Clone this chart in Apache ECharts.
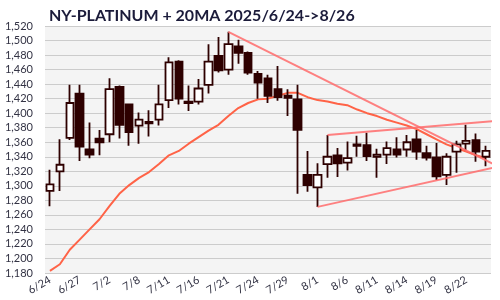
<!DOCTYPE html>
<html><head><meta charset="utf-8">
<script src="https://cdn.jsdelivr.net/npm/echarts@6/dist/echarts.min.js"></script>
<style>html,body{margin:0;padding:0;background:#fff}#c{width:500px;height:300px}</style>
</head><body><div id="c"></div>
<script>
const dates = ['6/24','6/25','6/26','6/27','6/30','7/1','7/2','7/3','7/7','7/8','7/9','7/10','7/11','7/14','7/15','7/16','7/17','7/18','7/21','7/22','7/23','7/24','7/25','7/28','7/29','7/30','7/31','8/1','8/4','8/5','8/6','8/7','8/8','8/11','8/12','8/13','8/14','8/15','8/18','8/19','8/20','8/21','8/22','8/25','8/26'];
const openV  = [1293,1320,1366,1427,1350,1365,1371,1436,1412,1383,1388,1391,1418,1471,1416,1416,1439,1479,1460,1492,1483,1454,1448,1433,1424,1419,1315,1298,1330,1342,1332,1357,1356,1340,1343,1350,1350,1364,1345,1339,1315,1347,1358,1363,1340];
const closeV = [1302,1329,1414,1354,1343,1360,1433,1384,1374,1391,1386,1412,1470,1420,1414,1434,1471,1459,1495,1483,1456,1442,1424,1422,1421,1377,1301,1315,1340,1331,1338,1355,1341,1343,1352,1343,1360,1347,1339,1313,1340,1357,1362,1347,1348];
const lowV   = [1272,1293,1363,1334,1338,1342,1360,1365,1355,1358,1368,1383,1407,1412,1403,1412,1427,1456,1453,1468,1453,1420,1414,1417,1396,1289,1292,1271,1311,1312,1321,1340,1334,1311,1330,1339,1340,1336,1335,1308,1301,1318,1349,1333,1327];
const highV  = [1322,1364,1439,1439,1387,1377,1448,1438,1413,1401,1404,1439,1477,1473,1438,1447,1495,1505,1512,1501,1485,1458,1453,1465,1433,1439,1348,1331,1370,1352,1361,1369,1373,1351,1361,1367,1370,1377,1355,1359,1345,1362,1384,1372,1355];
const ma20   = [1183,1192,1212,1226,1240,1254,1272,1289,1301,1311,1319,1330,1342,1348,1358,1367,1376,1384,1396,1407,1414,1419,1420,1424,1428,1428,1422,1418,1416,1413,1411,1405,1400,1396,1391,1387,1383,1378,1371,1364,1357,1352,1347,1342,1338];
const trendTop   = [[18,1512],[45.45,1325]];
const trendUpper = [[28,1370],[45.45,1390]];
const trendLower = [[27,1271],[45.45,1327]];
const yMin = 1180, yMax = 1520, yStep = 20;

const candles = dates.map((d,i)=>[openV[i],closeV[i],lowV[i],highV[i]]);
const dark = '#2e0000';
const chart = echarts.init(document.getElementById('c'), null, {renderer:'canvas'});
const trendStyle = {color:'#ff6b6b', width:2, opacity:0.85};
chart.setOption({
  animation:false,
  backgroundColor:'#ffffff',
  textStyle:{fontFamily:'Lato'},
  title:{text:'NY-PLATINUM + 20MA 2025/6/24->8/26', left:44, top:3,
    textStyle:{fontFamily:'Lato', fontWeight:'bold', fontSize:16, color:'#1b1b3a'}},
  grid:{left:45, right:9, top:26, bottom:27, show:true, backgroundColor:'#f4f4f4', borderWidth:0},
  xAxis:[{type:'category', data:dates, boundaryGap:true,
    axisLine:{show:false}, axisTick:{show:false}, splitLine:{show:false},
    axisLabel:{interval:2, rotate:30, fontSize:11, color:'#333344', margin:6, fontFamily:'Lato'}},
    {type:'value', min:-0.5, max:44.5, show:false}],
  yAxis:{type:'value', min:yMin, max:yMax, interval:yStep,
    axisLine:{show:false}, axisTick:{show:false},
    splitLine:{lineStyle:{color:'#cccccc', width:1}},
    axisLabel:{fontSize:11, color:'#333344', margin:12, fontFamily:'Lato',
      formatter:v=>v.toLocaleString('en-US')}},
  series:[
    {type:'line', data:ma20, symbol:'none', smooth:false,
      lineStyle:{color:'#ff6347', width:2}, z:2},
    {type:'candlestick', data:candles, barWidth:8,
      itemStyle:{color:'#ffffff', color0:dark, borderColor:dark, borderColor0:dark, borderWidth:1.8}, z:3},
    {type:'line', xAxisIndex:1, data:trendTop, symbol:'none', clip:false, lineStyle:trendStyle, z:4},
    {type:'line', xAxisIndex:1, data:trendUpper, symbol:'none', clip:false, lineStyle:trendStyle, z:4},
    {type:'line', xAxisIndex:1, data:trendLower, symbol:'none', clip:false, lineStyle:trendStyle, z:4}
  ]
});
</script></body></html>
